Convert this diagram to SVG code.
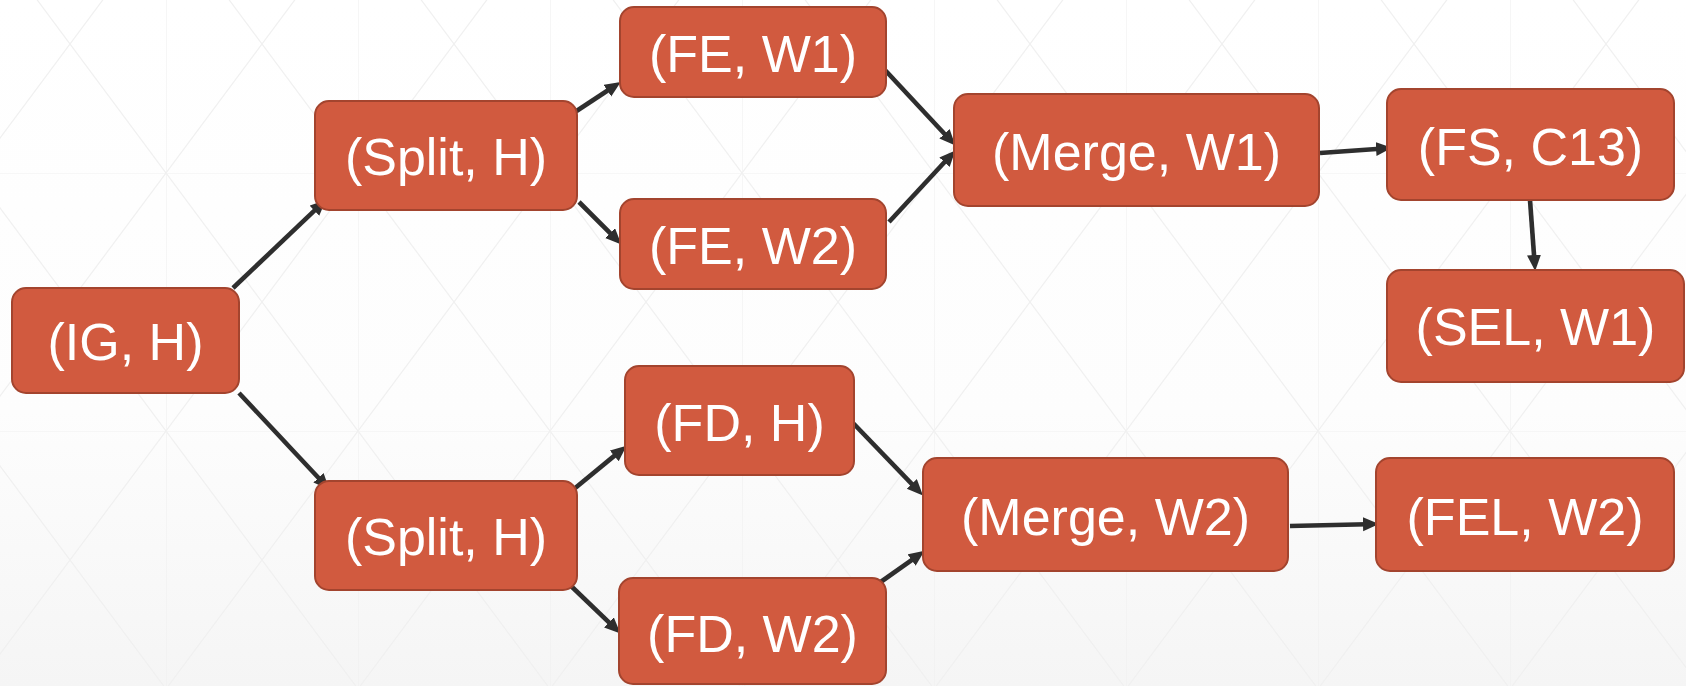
<svg xmlns="http://www.w3.org/2000/svg" width="1686" height="686" viewBox="0 0 1686 686">
  <style>
    .node rect { fill: #D15A3F; stroke: #A3442E; stroke-width: 2; }
    .node text { fill: #FFFFFF; font-family: "Liberation Sans", Arial, sans-serif; font-size: 52px; text-anchor: middle; }
    .edge { stroke: #2E2E2E; stroke-width: 4.6; fill: none; marker-end: url(#arrow); }
  </style>
  <defs>
    <linearGradient id="bg" x1="0" y1="0" x2="0" y2="1">
      <stop offset="0" stop-color="#FFFFFF"/>
      <stop offset="0.6" stop-color="#FDFDFD"/>
      <stop offset="1" stop-color="#F5F5F5"/>
    </linearGradient>
    <!-- faint triangular lattice: verticals, horizontals and both cell diagonals -->
    <pattern id="grid" patternUnits="userSpaceOnUse" x="-26" y="-85" width="192" height="258">
      <g stroke="#F0F0F0" stroke-width="1.2" fill="none">
        <line x1="0" y1="0" x2="0" y2="258"/>
        <line x1="0" y1="0" x2="192" y2="0"/>
        <line x1="0" y1="0" x2="192" y2="258"/>
        <line x1="192" y1="0" x2="0" y2="258"/>
      </g>
    </pattern>
    <marker id="arrow" markerUnits="userSpaceOnUse" markerWidth="17" markerHeight="15" refX="4" refY="7" orient="auto">
      <path d="M0,0 L16,7 L0,14 z" fill="#2E2E2E"/>
    </marker>
  </defs>

  <!-- backdrop -->
  <rect x="0" y="0" width="1686" height="686" fill="url(#bg)"/>
  <rect x="0" y="0" width="1686" height="686" fill="url(#grid)"/>

  <!-- connectors -->
  <g id="connectors">
    <line class="edge" x1="233" y1="288" x2="317.3" y2="207.9"/>
    <line class="edge" x1="239" y1="393" x2="321.2" y2="480.7"/>
    <line class="edge" x1="575" y1="112" x2="610.7" y2="88.5"/>
    <line class="edge" x1="579" y1="202" x2="612.9" y2="235.9"/>
    <line class="edge" x1="885" y1="70" x2="947.2" y2="136.7"/>
    <line class="edge" x1="889" y1="222" x2="947.2" y2="159.3"/>
    <line class="edge" x1="1320" y1="153" x2="1380" y2="148.7"/>
    <line class="edge" x1="1530" y1="200" x2="1534.3" y2="259"/>
    <line class="edge" x1="574" y1="489" x2="617.3" y2="453.4"/>
    <line class="edge" x1="570" y1="585" x2="611.8" y2="625.1"/>
    <line class="edge" x1="853" y1="423" x2="914.6" y2="486.8"/>
    <line class="edge" x1="875" y1="586" x2="914.8" y2="557.8"/>
    <line class="edge" x1="1290" y1="526" x2="1367" y2="524.2"/>
  </g>

  <!-- nodes -->
  <g id="node-ig-h" class="node">
    <rect x="12" y="288" width="227" height="105" rx="14"/>
    <text x="125.5" y="360">(IG, H)</text>
  </g>
  <g id="node-split-h-1" class="node">
    <rect x="315" y="101" width="262" height="109" rx="14"/>
    <text x="446" y="175">(Split, H)</text>
  </g>
  <g id="node-split-h-2" class="node">
    <rect x="315" y="481" width="262" height="109" rx="14"/>
    <text x="446" y="555">(Split, H)</text>
  </g>
  <g id="node-fe-w1" class="node">
    <rect x="620" y="7" width="266" height="90" rx="14"/>
    <text x="753" y="72">(FE, W1)</text>
  </g>
  <g id="node-fe-w2" class="node">
    <rect x="620" y="199" width="266" height="90" rx="14"/>
    <text x="753" y="264">(FE, W2)</text>
  </g>
  <g id="node-merge-w1" class="node">
    <rect x="954" y="94" width="365" height="112" rx="14"/>
    <text x="1136.5" y="170">(Merge, W1)</text>
  </g>
  <g id="node-fs-c13" class="node">
    <rect x="1387" y="89" width="287" height="111" rx="14"/>
    <text x="1530.5" y="165">(FS, C13)</text>
  </g>
  <g id="node-sel-w1" class="node">
    <rect x="1387" y="270" width="297" height="112" rx="14"/>
    <text x="1535.5" y="345">(SEL, W1)</text>
  </g>
  <g id="node-fd-h" class="node">
    <rect x="625" y="366" width="229" height="109" rx="14"/>
    <text x="739.5" y="440.5">(FD, H)</text>
  </g>
  <g id="node-fd-w2" class="node">
    <rect x="619" y="578" width="267" height="106" rx="14"/>
    <text x="752.5" y="651.5">(FD, W2)</text>
  </g>
  <g id="node-merge-w2" class="node">
    <rect x="923" y="458" width="365" height="113" rx="14"/>
    <text x="1105.5" y="535">(Merge, W2)</text>
  </g>
  <g id="node-fel-w2" class="node">
    <rect x="1376" y="458" width="298" height="113" rx="14"/>
    <text x="1525" y="535">(FEL, W2)</text>
  </g>
</svg>
